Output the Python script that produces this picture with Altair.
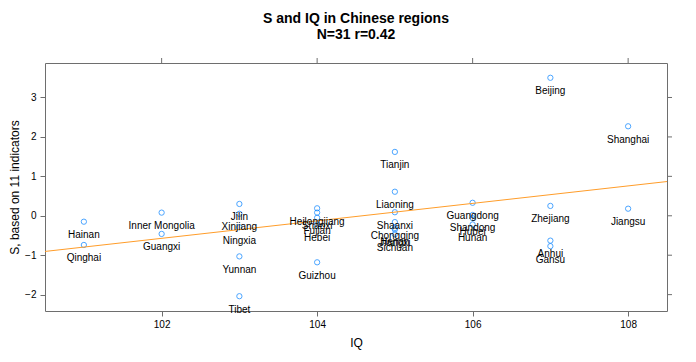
import altair as alt
import pandas as pd

names = ["Hainan", "Qinghai", "Inner Mongolia", "Guangxi", "Jilin", "Xinjiang", "Ningxia",
         "Yunnan", "Tibet", "Heilongjiang", "Shanxi", "Fujian", "Hebei", "Guizhou",
         "Tianjin", "Liaoning", "Shaanxi", "Chongqing", "Henan", "Jiangxi", "Sichuan",
         "Guangdong", "Shandong", "Hubei", "Hunan", "Beijing", "Zhejiang", "Anhui",
         "Gansu", "Shanghai", "Jiangsu"]
iq = [101, 101, 102, 102, 103, 103, 103, 103, 103, 104, 104, 104, 104, 104,
      105, 105, 105, 105, 105, 105, 105, 106, 106, 106, 106, 107, 107, 107, 107,
      108, 108]
s_vals = [-0.15, -0.74, 0.08, -0.46, 0.30, 0.05, -0.29, -1.03, -2.04, 0.19, 0.08,
          -0.05, -0.22, -1.18, 1.62, 0.61, 0.09, -0.16, -0.31, -0.35, -0.47, 0.33,
          0.02, -0.06, -0.22, 3.50, 0.25, -0.63, -0.77, 2.27, 0.18]
x_ticks = [102, 104, 106, 108]
y_ticks = [-2, -1, 0, 1, 2, 3]
x_domain = [100.5, 108.5]
y_domain = [-2.415, 3.875]

df = pd.DataFrame({"name": names, "IQ": iq, "S": s_vals})
xt = pd.DataFrame({"IQ": x_ticks})
yt = pd.DataFrame({"S": y_ticks})

FONT = "Liberation Sans"
AX = "#6e6e6e"
W, H = 622, 248

xs = alt.Scale(domain=x_domain, nice=False, zero=False)
ys = alt.Scale(domain=y_domain, nice=False, zero=False)

x_bottom = alt.Axis(values=x_ticks, format="d", orient="bottom", grid=False, domain=False,
                    tickSize=5, tickColor=AX, labelFontSize=10, labelColor="black",
                    labelPadding=3, title="IQ", titleFontSize=12, titleFontWeight="normal",
                    titleColor="black", titlePadding=8)
y_left = alt.Axis(values=y_ticks, format="d", orient="left", grid=False, domain=False,
                  tickSize=5, tickColor=AX, labelFontSize=10, labelColor="black",
                  labelPadding=4, title="S, based on 11 indicators", titleFontSize=12,
                  titleFontWeight="normal", titleColor="black", titlePadding=3)

base = alt.Chart(df)

points = base.mark_point(shape="circle", filled=False, size=28, strokeWidth=1,
                         color="#0080ff").encode(
    x=alt.X("IQ:Q", scale=xs, axis=x_bottom),
    y=alt.Y("S:Q", scale=ys, axis=y_left),
)

line = base.transform_regression("IQ", "S", extent=x_domain).mark_line(
    color="#ff9d2a", strokeWidth=1).encode(
    x=alt.X("IQ:Q", scale=xs),
    y=alt.Y("S:Q", scale=ys),
)

labels = base.mark_text(fontSize=10, dy=13.5, color="black", font=FONT).encode(
    x=alt.X("IQ:Q", scale=xs),
    y=alt.Y("S:Q", scale=ys),
    text="name:N",
)

# lattice-style unlabeled ticks on the top and right edges
top_ticks = alt.Chart(xt).mark_rule(color=AX, strokeWidth=1).encode(
    x=alt.X("IQ:Q", scale=xs),
    y=alt.value(-5),
    y2=alt.value(0),
)
right_ticks = alt.Chart(yt).mark_rule(color=AX, strokeWidth=1).encode(
    y=alt.Y("S:Q", scale=ys),
    x=alt.value(W),
    x2=alt.value(W + 5),
)

chart = alt.layer(points, line, labels, top_ticks, right_ticks).properties(
    width=W,
    height=H,
    padding={"left": 37, "top": 55, "right": 20, "bottom": 46},
    autosize=alt.AutoSizeParams(type="none"),
    title=alt.TitleParams(
        text=["S and IQ in Chinese regions", "N=31 r=0.42"],
        fontSize=14, fontWeight="bold", anchor="middle", font=FONT,
        lineHeight=16, offset=16, color="black",
    ),
).configure(font=FONT).configure_view(stroke=AX, strokeWidth=1)

chart.save("out.html", embed_options={"renderer": "svg", "actions": False})
